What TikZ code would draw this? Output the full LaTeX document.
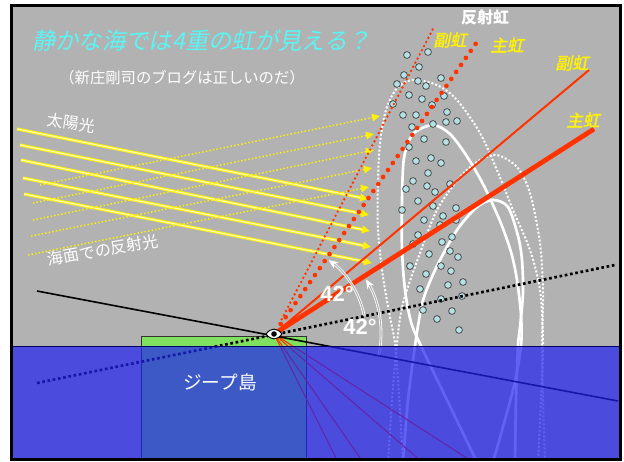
\documentclass[tikz,border=0pt]{standalone}
\usepackage{fontspec}
\setmainfont{Liberation Sans}
\newfontfamily\jp{Noto Sans CJK JP}
\newfontfamily\jpsl{Noto Sans CJK JP}[FakeSlant=0.2]
\newfontfamily\jpslb{Noto Sans CJK JP}[FakeSlant=0.2,FakeBold=2]
\usetikzlibrary{arrows.meta}
\definecolor{bggray}{RGB}{178,178,178}
\definecolor{seablue}{RGB}{32,32,240}
\definecolor{landgreen}{RGB}{128,224,96}
\definecolor{raycolor}{RGB}{255,51,0}
\definecolor{dropcolor}{RGB}{180,226,228}
\definecolor{titlecyan}{RGB}{90,245,245}

\begin{document}
\begin{tikzpicture}[x=0.75pt,y=-0.75pt,
  sunray/.style={yellow,line width=2.3pt,-{Triangle[length=6pt,width=5.5pt]},
    postaction={draw=yellow!30!white,line width=0.9pt,-,shorten >=6pt}},
  seeray/.style={yellow,line width=1.1pt,dash pattern=on 1.1pt off 1.6pt,
    -{Triangle[length=6pt,width=5.5pt]}},
  arch/.style={white,line width=2pt},
  dotarch/.style={white,line width=1.5pt,dash pattern=on 1.5pt off 1.5pt},
  drop/.style={fill=dropcolor,draw=black!70,line width=0.6pt},
  angarc/.style={white,line width=0.6pt,double=bggray,double distance=0.8pt,
    -{Stealth[length=7pt,width=6pt]}},
  lbl/.style={white,inner sep=0pt,font=\jp\fontsize{12pt}{12pt}\selectfont},
  bow/.style={yellow,inner sep=0pt,font=\jpslb\fontsize{12.5pt}{12.5pt}\selectfont},
  deg/.style={white,inner sep=0pt,font=\bfseries\fontsize{16.5pt}{16.5pt}\selectfont}]
\useasboundingbox (0,0) rectangle (624,461);
\fill[bggray] (12,6) rectangle (620,459);

\begin{scope}
\clip (12,6) rectangle (620,459);

% sunlight and its reflection off the sea
\foreach \i/\sx/\sy/\ex/\ey in {0/17/129/368/199, 1/20/145/369/215, 2/21/160/370/231,
    3/23/178/371/247, 4/24/194/372/263} {
  \coordinate (sun\i) at (\sx,\sy);
  \coordinate (sunend\i) at (\ex,\ey);
  \draw[sunray] (sun\i) -- (sunend\i);
}
\foreach \i/\sx/\sy/\ex/\ey in {0/40/185/380/116, 1/33/203/374/134, 2/33/220/374/150,
    3/31/236/372/168, 4/28/255/369/187} {
  \coordinate (see\i) at (\sx,\sy);
  \coordinate (seeend\i) at (\ex,\ey);
  \draw[seeray] (see\i) -- (seeend\i);
}

% rainbow arches (continued under the water)
\draw[dotarch] plot[smooth] coordinates {(403,462) (398,380) (395,343) (390,317)
  (383,277) (378,230) (378,180) (380,143) (386,110) (397,88) (413,80) (437,85)
  (457,100) (480,133) (497,170) (513,210) (530,250) (540,290) (543,343) (541,400) (538,462)};
\draw[dotarch] plot[smooth] coordinates {(388,462) (392,400) (397,343) (403,303)
  (420,253) (437,210) (460,177) (480,160) (497,155) (517,167) (530,193) (540,243)
  (543,293) (542,343) (543,400) (545,462)};
\draw[arch] plot[smooth] coordinates {(477,462) (447,400) (421,346) (411,322)
  (405,290) (402,250) (402,200) (404,158) (413,134) (433,125) (450,134) (466,155)
  (483,184) (500,221) (511,252) (517,280) (521,315) (521,346) (513,390) (493,462)};
\draw[arch] plot[smooth] coordinates {(403,462) (408,400) (415,346) (419,320)
  (424,297) (437,266) (457,230) (477,207) (493,200) (508,207) (518,236) (522,260)
  (523,293) (520,327) (518,346) (516,400) (515,462)};

% water drops
\foreach \px/\py in {407/55, 428/52, 419/67, 404/75, 397/84, 418/81, 426/86, 441/78,
    409/95, 422/99, 432/105, 444/96, 393/104, 403/115, 416/115, 447/112, 446/122,
    457/121, 412/127, 433/124, 424/139, 446/142, 409/147, 416/161, 431/158, 441/163,
    428/173, 413/181, 406/189, 427/186, 450/184, 435/192, 418/201, 433/206, 456/208,
    402/210, 443/216, 424/220, 456/220, 440/225, 418/235, 452/237, 413/244, 442/242,
    429/254, 450/251, 458/257, 410/266, 441/266, 451/271, 426/274, 463/282, 448/285,
    420/289, 441/299, 462/296, 423/310, 452/311, 437/319, 459/330}
  \draw[drop] (\px,\py) circle (3.4);

% Jeep Island
\draw[fill=landgreen,draw=black!80,line width=0.6pt] (141,336) rectangle (306,462);

% lines of sight
\coordinate (eye) at (274,334);
\coordinate (hzL) at (37,291);
\coordinate (hzR) at (618,401);
\coordinate (dtL) at (37,383);
\coordinate (dtR) at (615,265);
\coordinate (mainEnd) at (594,129);
\coordinate (secEnd) at (589,70);
\coordinate (rmainEnd) at (479,39);
\coordinate (rsecEnd) at (434,27);
\foreach \n/\x in {1/338, 2/363, 3/422, 4/473} {
  \coordinate (down\n) at (\x,462);
  \draw[raycolor,line width=0.8pt] (eye) -- (down\n);
}
\draw[black,line width=1.2pt] (hzL) -- (hzR);
\draw[black,line width=2pt,dash pattern=on 2pt off 2pt] (dtL) -- (dtR);
\draw[raycolor,line width=3.6pt] (eye) -- (mainEnd);
\draw[raycolor,line width=1.5pt] (eye) -- (secEnd);
\draw[raycolor,line width=3.5pt,line cap=round,dash pattern=on 0pt off 6.4pt,
  shorten <=9pt] (eye) -- (rmainEnd);
\draw[raycolor,line width=2pt,line cap=round,dash pattern=on 0pt off 3.5pt,
  shorten <=9pt] (eye) -- (rsecEnd);

% 42 degree arrows
\coordinate (arcA) at (364.2,315.7);
\coordinate (arcB) at (378.9,355);
\draw[angarc] (arcA) arc[start angle=-11.5,end angle=-53.5,radius=92];
\draw[angarc] (arcB) arc[start angle=11.3,end angle=-30.7,radius=107];

% the sea
\fill[seablue,opacity=0.7] (12,346) rectangle (620,462);
\draw[black!60!blue,line width=0.6pt] (12,346) -- (620,346);
\end{scope}

% the eye
\draw[fill=white,line width=0.7pt] ([xshift=-6pt]eye) .. controls +(5,-6.5) and +(-5,-6.5)
  .. ([xshift=6pt]eye) .. controls +(-5,6.5) and +(5,6.5) .. cycle;
\fill (eye) circle (2.8);

% texts
\node[titlecyan,inner sep=0pt,anchor=west,font=\jpsl\fontsize{17.5pt}{17.5pt}\selectfont]
  (title) at (32,41) {静かな海では4重の虹が見える？};
\node[lbl,font=\jp\fontsize{11.5pt}{11.5pt}\selectfont] (blog) at (182,78)
  {（新庄剛司のブログは正しいのだ）};
\node[lbl,rotate=-8] (sunlbl) at (71,123) {太陽光};
\node[lbl,rotate=10] (seelbl) at (103,250) {海面での反射光};
\node[lbl,font=\jp\fontsize{14pt}{14pt}\selectfont] (island) at (220,382) {ジープ島};
\node[lbl,font=\jp\bfseries\fontsize{12pt}{12pt}\selectfont] (reflbow) at (485,17) {反射虹};
\node[bow] (rsec) at (450,40) {副虹};
\node[bow] (rmain) at (507,45) {主虹};
\node[bow] (sec) at (572,63) {副虹};
\node[bow] (main) at (583,120) {主虹};
\node[deg] (degA) at (337,294) {42°};
\node[deg] (degB) at (360,327) {42°};

\draw[line width=2.2pt] (11.5,5.5) rectangle (620.5,459.5);
\end{tikzpicture}
\end{document}
